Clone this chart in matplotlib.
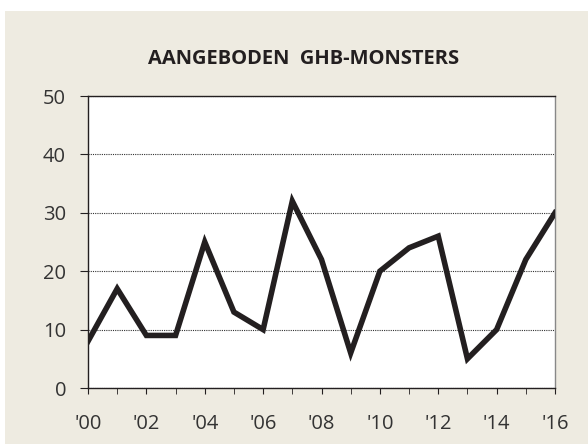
import matplotlib.pyplot as plt
from matplotlib.patches import Rectangle
import numpy as np

# GHB samples submitted per year
years = np.arange(2000, 2017)
samples = [8, 17, 9, 9, 25, 13, 10, 32, 22, 6, 20, 24, 26, 5, 10, 22, 30]
tick_years = years[::2]
tick_labels = ["'%02d" % (y % 100) for y in tick_years]

plt.rcParams['font.family'] = ['Open Sans', 'DejaVu Sans']

W, H = 588, 444
fig = plt.figure(figsize=(W / 100, H / 100), dpi=100)
fig.patch.set_facecolor('white')

# beige panel behind the chart
bg = '#eeebe1'
fig.patches.append(Rectangle((5 / W, 0), 1 - 5 / W, 1 - 11 / H,
                             transform=fig.transFigure, facecolor=bg,
                             edgecolor='none', zorder=-10))

ax = fig.add_axes([88 / W, (H - 388) / H, (555 - 88) / W, (388 - 96) / H])
ax.set_facecolor('white')

ax.plot(years, samples, color='#231f20', lw=4, solid_joinstyle='miter', zorder=3)

ax.set_xlim(2000, 2016)
ax.set_ylim(0, 50)
ax.set_xticks(years, minor=True)
ax.set_xticks(tick_years)
ax.set_xticklabels(tick_labels)
ax.set_yticks([0, 10, 20, 30, 40, 50])

ax.grid(axis='y', color='#333333', linestyle=(0, (1, 1)), lw=0.8)
ax.set_axisbelow(True)

for side in ['left', 'bottom', 'top']:
    ax.spines[side].set_color('#231f20')
    ax.spines[side].set_linewidth(1.0)
ax.spines['right'].set_color('#888888')
ax.spines['right'].set_linewidth(1.0)

ax.tick_params(axis='both', which='both', direction='out', color='#231f20',
               labelsize=14.5, labelcolor='#333333')
ax.tick_params(axis='x', which='both', length=4.5, pad=14)
ax.tick_params(axis='y', length=5.8, pad=10)

fig.text(304 / W, 1 - 59 / H, 'AANGEBODEN  GHB-MONSTERS',
         ha='center', va='center', fontsize=14.5, fontweight='bold',
         color='#231f20')

fig.savefig('out.png', dpi=100, facecolor=fig.get_facecolor())
